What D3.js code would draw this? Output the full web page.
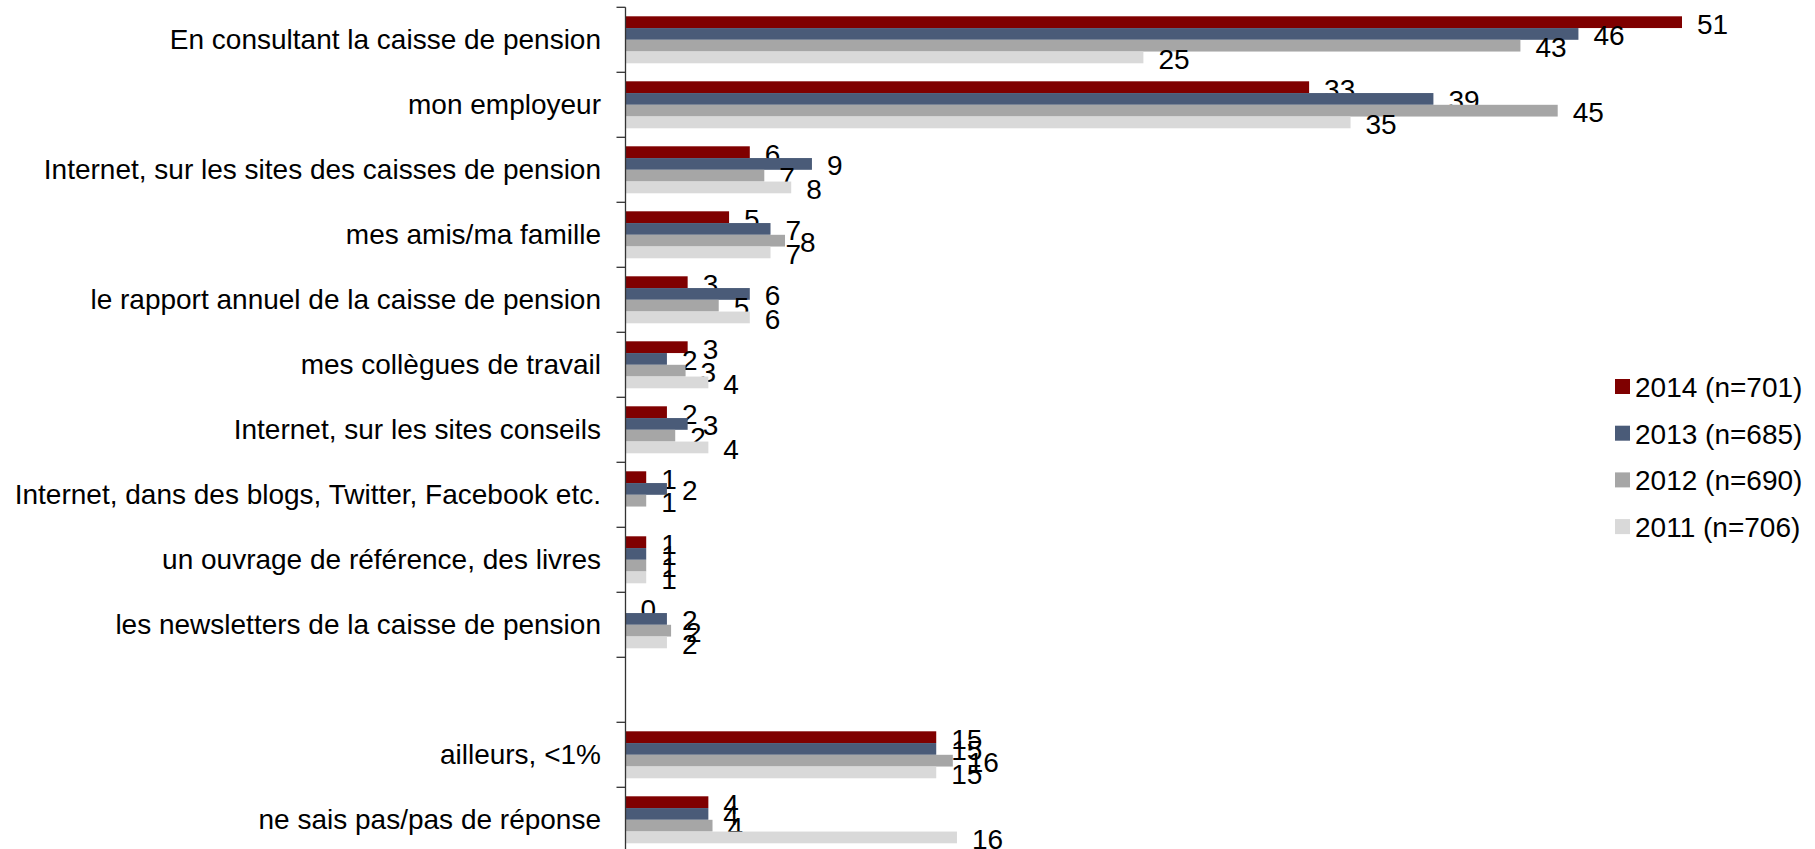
<!DOCTYPE html>
<html>
<head>
<meta charset="utf-8">
<script src="https://cdn.jsdelivr.net/npm/d3@7"></script>
<style>
  html, body { margin: 0; padding: 0; background: #fff; }
  svg { display: block; font-family: "Liberation Sans", Arial, sans-serif; }
</style>
</head>
<body>
<svg id="chart" width="1815" height="849"></svg>
<script>
// ---- data ----
const categories = [
  "En consultant la caisse de pension",
  "mon employeur",
  "Internet, sur les sites des caisses de pension",
  "mes amis/ma famille",
  "le rapport annuel de la caisse de pension",
  "mes collègues de travail",
  "Internet, sur les sites conseils",
  "Internet, dans des blogs, Twitter, Facebook etc.",
  "un ouvrage de référence, des livres",
  "les newsletters de la caisse de pension",
  "",
  "ailleurs, <1%",
  "ne sais pas/pas de réponse"
];
const seriesNames = ["2014 (n=701)", "2013 (n=685)", "2012 (n=690)", "2011 (n=706)"];
const seriesColors = ["#7f0000", "#4a5b78", "#a6a6a6", "#d9d9d9"];
const values2014 = [51, 33, 6, 5, 3, 3, 2, 1, 1, 0, null, 15, 4];
const values2013 = [46, 39, 9, 7, 6, 2, 3, 2, 1, 2, null, 15, 4];
const values2012 = [43.2, 45, 6.7, 7.7, 4.5, 2.9, 2.4, 1, 1, 2.2, null, 15.8, 4.2];
const values2011 = [25, 35, 8, 7, 6, 4, 4, null, 1, 2, null, 15, 16];
const seriesValues = [values2014, values2013, values2012, values2011];

// ---- layout ----
const svg = d3.select("#chart");
const axisX = 625.5;
const yTop = 7.3, step = 65;
const fontSize = 28;

const x = d3.scaleLinear().domain([0, 51]).range([axisX, 1682]);
const keys = categories.map((c, i) => i);
const y = d3.scaleBand().domain(keys)
  .range([yTop, yTop + step * categories.length])
  .paddingInner(0.277).paddingOuter(0.1385);
const ySub = d3.scaleBand().domain(d3.range(seriesNames.length)).range([0, y.bandwidth()]);

const fmt = d3.format(".0f");

// bars
seriesValues.forEach((vals, s) => {
  const g = svg.append("g");
  const data = vals.map((v, i) => ({ i, v })).filter(d => d.v !== null);
  g.selectAll("rect").data(data.filter(d => d.v > 0)).join("rect")
    .attr("x", x(0))
    .attr("y", d => y(d.i) + ySub(s))
    .attr("width", d => x(d.v) - x(0))
    .attr("height", ySub.bandwidth())
    .attr("fill", seriesColors[s]);
  g.selectAll("text").data(data).join("text")
    .attr("x", d => x(d.v) + 15)
    .attr("y", d => y(d.i) + ySub(s) + ySub.bandwidth() / 2 + 2)
    .attr("dominant-baseline", "central")
    .attr("font-size", fontSize)
    .attr("fill", "#000")
    .text(d => fmt(d.v));
});

// axis line and boundary ticks
const axisG = svg.append("g").attr("stroke", "#333").attr("stroke-width", 1.3);
axisG.append("line").attr("x1", axisX).attr("x2", axisX)
  .attr("y1", yTop).attr("y2", yTop + step * categories.length);
d3.range(categories.length + 1).forEach(k => {
  const yy = k < categories.length ? y(k) - y.step() * y.paddingInner() / 2 : y(k - 1) + y.bandwidth() + y.step() * y.paddingInner() / 2;
  axisG.append("line").attr("x1", axisX - 9).attr("x2", axisX).attr("y1", yy).attr("y2", yy);
});

// category labels
svg.append("g").selectAll("text").data(keys).join("text")
  .attr("x", 601)
  .attr("y", d => y(d) + y.bandwidth() / 2)
  .attr("text-anchor", "end")
  .attr("dominant-baseline", "central")
  .attr("font-size", fontSize)
  .attr("fill", "#000")
  .text(d => categories[d]);

// legend
const legend = svg.append("g");
seriesNames.forEach((name, s) => {
  const cy = 386.5 + 46.7 * s;
  legend.append("rect").attr("x", 1615).attr("y", cy - 7.5).attr("width", 15).attr("height", 15)
    .attr("fill", seriesColors[s]);
  legend.append("text").attr("x", 1635).attr("y", cy + 1)
    .attr("dominant-baseline", "central")
    .attr("font-size", fontSize).attr("fill", "#000").text(name);
});
</script>
</body>
</html>
